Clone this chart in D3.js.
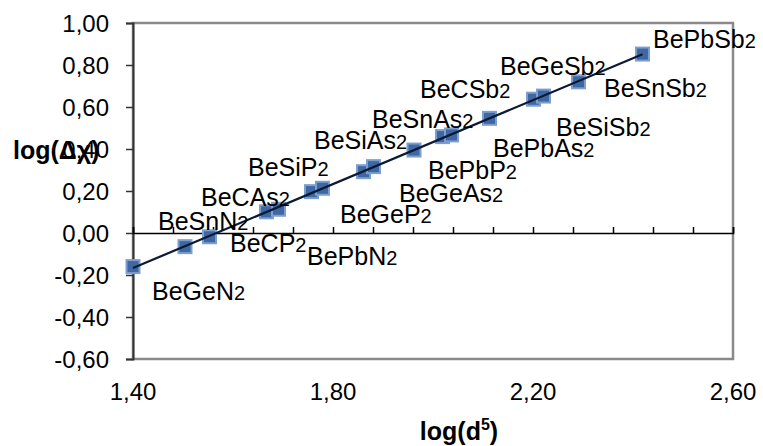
<!DOCTYPE html>
<html>
<head>
<meta charset="utf-8">
<style>
body { margin: 0; background: #fff; }
svg text { font-family: "Liberation Sans", Arial, sans-serif; fill: #000; }
.tick-label { font-size: 24px; }
.point-label { font-size: 25px; }
.title { font-size: 25px; font-weight: bold; }
</style>
<script src="https://cdn.jsdelivr.net/npm/d3@7/dist/d3.min.js"></script>
</head>
<body>
<div id="chart"></div>
<script>

// compound names and the values
var names = ["BeGeN", "BeSnN", "BeCP", "BeCAs", "BePbN", "BeSiP", "BeGeP", "BeSiAs", "BeGeAs",
             "BeSnAs", "BePbP", "BeCSb", "BePbAs", "BeSiSb", "BeGeSb", "BeSnSb", "BePbSb"];
var logD5 = [1.400, 1.504, 1.553, 1.667, 1.691, 1.757, 1.779, 1.861, 1.881,
             1.962, 2.019, 2.037, 2.113, 2.201, 2.221, 2.291, 2.419];
var logDX = [-0.160, -0.065, -0.018, 0.101, 0.113, 0.197, 0.213, 0.292, 0.316,
             0.395, 0.459, 0.467, 0.546, 0.637, 0.652, 0.720, 0.852];

// where each data label sits (data units, as dragged in the original)
var labelX = [1.438, 1.450, 1.594, 1.536, 1.748, 1.630, 1.814, 1.762, 1.932,
              1.878, 1.990, 1.974, 2.120, 2.246, 2.134, 2.342, 2.440];
var labelY = [-0.319, 0.014, -0.090, 0.129, -0.152, 0.271, 0.048, 0.400, 0.148,
              0.500, 0.257, 0.643, 0.362, 0.462, 0.752, 0.648, 0.881];

var xTicks = d3.range(0, 16).map(function(i) { return 1.40 + i * 0.08; });
var xTickLabels = [1.40, 1.80, 2.20, 2.60];
var yTicks = [-0.60, -0.40, -0.20, 0.00, 0.20, 0.40, 0.60, 0.80, 1.00];

var W = 763, H = 446;
var pl = 133, pr = 733, pt = 23, pb = 359;

var x = d3.scaleLinear().domain([1.40, 2.60]).range([pl, pr]);
var y = d3.scaleLinear().domain([-0.60, 1.00]).range([pb, pt]);

var comma = function(v) { return d3.format(".2f")(v).replace(".", ",").replace("−", "-"); };

var svg = d3.select("#chart").append("svg")
    .attr("width", W)
    .attr("height", H);

// plot area frame
svg.append("rect")
    .attr("x", pl).attr("y", pt)
    .attr("width", pr - pl).attr("height", pb - pt)
    .attr("fill", "none")
    .attr("stroke", "#8a8a8a")
    .attr("stroke-width", 2.5);

// y axis
var yAxis = svg.append("g")
    .attr("transform", "translate(" + pl + ",0)")
    .call(d3.axisLeft(y).tickValues(yTicks).tickSize(7).tickFormat(comma));
yAxis.attr("font-family", null).attr("font-size", null);
yAxis.select(".domain").attr("stroke", "#333").attr("stroke-width", 2);
yAxis.selectAll(".tick line").attr("stroke", "#333").attr("stroke-width", 1.5);
yAxis.selectAll(".tick text")
    .attr("class", "tick-label")
    .attr("x", -24)
    .attr("dy", "0.36em");

// x axis crosses at y = 0, ticks pointing up, labels below plot
var xAxis = svg.append("g")
    .attr("transform", "translate(0," + y(0) + ")")
    .call(d3.axisTop(x).tickValues(xTicks).tickSize(6).tickFormat(""));
xAxis.select(".domain").attr("stroke", "#000").attr("stroke-width", 1.5);
xAxis.selectAll(".tick line").attr("stroke", "#000").attr("stroke-width", 1.5);

svg.append("g").selectAll("text")
    .data(xTickLabels)
    .enter().append("text")
    .attr("class", "tick-label")
    .attr("x", function(d) { return x(d); })
    .attr("y", 400)
    .attr("text-anchor", "middle")
    .text(comma);

// trend line: least squares of the points
var mx = d3.mean(logD5), my = d3.mean(logDX);
var sxy = d3.sum(logD5, function(v, i) { return (v - mx) * (logDX[i] - my); });
var sxx = d3.sum(logD5, function(v) { return (v - mx) * (v - mx); });
var slope = sxy / sxx, icpt = my - slope * mx;
var x0 = d3.min(logD5), x1 = d3.max(logD5);

// markers
var ms = 13;
svg.append("g").selectAll("rect")
    .data(logD5)
    .enter().append("rect")
    .attr("x", function(d) { return x(d) - ms / 2; })
    .attr("y", function(d, i) { return y(logDX[i]) - ms / 2; })
    .attr("width", ms).attr("height", ms)
    .attr("fill", "#3f68a3")
    .attr("stroke", "#7d9fd0")
    .attr("stroke-width", 2);

// line drawn over the markers as in the original
svg.append("line")
    .attr("x1", x(x0)).attr("y1", y(icpt + slope * x0))
    .attr("x2", x(x1)).attr("y2", y(icpt + slope * x1))
    .attr("stroke", "#0a1a33")
    .attr("stroke-width", 2.2);

// data labels
var lab = svg.append("g").selectAll("text")
    .data(names)
    .enter().append("text")
    .attr("class", "point-label")
    .attr("x", function(d, i) { return x(labelX[i]); })
    .attr("y", function(d, i) { return y(labelY[i]); });
lab.append("tspan").text(function(d) { return d; });
lab.append("tspan").attr("font-size", "20px").text("2");

// axis titles
svg.append("text")
    .attr("class", "title")
    .attr("x", 13).attr("y", 159)
    .text("log(Δχ)");

var xt = svg.append("text")
    .attr("class", "title")
    .attr("x", 459).attr("y", 440)
    .attr("text-anchor", "middle");
xt.append("tspan").text("log(d");
xt.append("tspan").attr("font-size", "16px").attr("dy", "-10").text("5");
xt.append("tspan").attr("dy", "10").text(")");

</script>
</body>
</html>
